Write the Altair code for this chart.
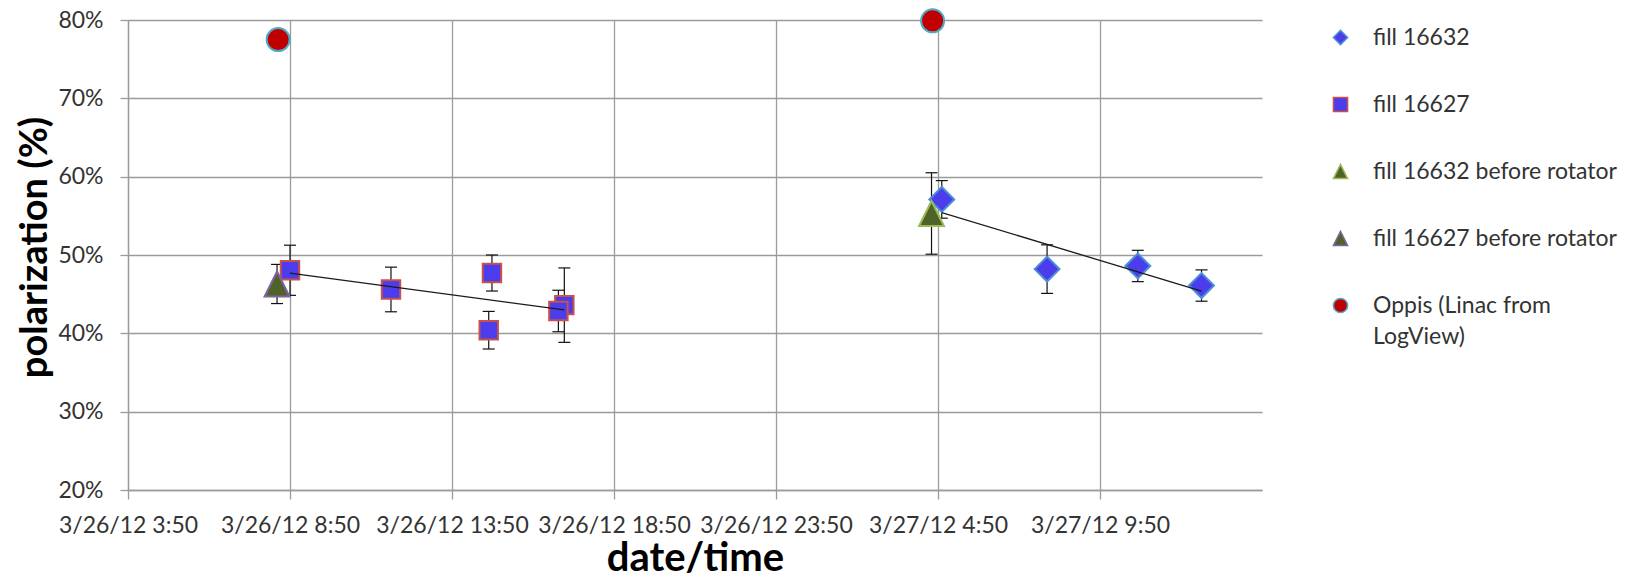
import altair as alt
import pandas as pd

# ---------------- data ----------------
series_names = [
    "fill 16632",
    "fill 16627",
    "fill 16632 before rotator",
    "fill 16627 before rotator",
    "Oppis (Linac from LogView)",
]

fill16632_time = ["2012-03-27 04:57", "2012-03-27 08:12", "2012-03-27 11:00", "2012-03-27 12:58"]
fill16632_pol = [57.1, 48.2, 48.6, 46.1]
fill16632_err = [2.4, 3.1, 2.0, 2.0]

fill16627_time = ["2012-03-26 08:50", "2012-03-26 11:57", "2012-03-26 15:04",
                  "2012-03-26 14:58", "2012-03-26 17:18", "2012-03-26 17:07"]
fill16627_pol = [48.05, 45.6, 47.7, 40.4, 43.6, 42.85]
fill16627_err = [3.2, 2.85, 2.3, 2.4, 4.75, 2.65]

before16632_time = ["2012-03-27 04:38"]
before16632_pol = [55.3]
before16632_err = [5.2]

before16627_time = ["2012-03-26 08:26"]
before16627_pol = [46.3]
before16627_err = [2.5]

oppis_time = ["2012-03-26 08:28", "2012-03-27 04:40"]
oppis_pol = [77.5, 79.9]

x_tick_times = ["2012-03-26 03:50", "2012-03-26 08:50", "2012-03-26 13:50", "2012-03-26 18:50",
                "2012-03-26 23:50", "2012-03-27 04:50", "2012-03-27 09:50"]
x_tick_labels = ["3/26/12 3:50", "3/26/12 8:50", "3/26/12 13:50", "3/26/12 18:50",
                 "3/26/12 23:50", "3/27/12 4:50", "3/27/12 9:50"]
x_domain_times = ["2012-03-26 03:50", "2012-03-27 14:50"]
y_ticks = [20, 30, 40, 50, 60, 70, 80]

# ---------------- table ----------------
origin = pd.Timestamp("2012-03-26 00:00")


def minutes(ts):
    return [int((pd.Timestamp(t) - origin).total_seconds() // 60) for t in ts]


rows = []
for name, ts, pols, errs in [
    (series_names[0], fill16632_time, fill16632_pol, fill16632_err),
    (series_names[1], fill16627_time, fill16627_pol, fill16627_err),
    (series_names[2], before16632_time, before16632_pol, before16632_err),
    (series_names[3], before16627_time, before16627_pol, before16627_err),
    (series_names[4], oppis_time, oppis_pol, [None] * len(oppis_pol)),
]:
    for m, p, e in zip(minutes(ts), pols, errs):
        rows.append({
            "series": name, "minutes": m, "pol": p,
            "lo": p - e if e is not None else None,
            "hi": p + e if e is not None else None,
        })
df = pd.DataFrame(rows)
df_err = df.dropna(subset=["lo"])

tick_minutes = minutes(x_tick_times)
x_domain = minutes(x_domain_times)

label_list = "[" + ",".join("'" + s + "'" for s in x_tick_labels) + "]"
value_list = "[" + ",".join(str(v) for v in tick_minutes) + "]"
x_label_expr = f"{label_list}[indexof({value_list}, datum.value)]"

FONT = "Lato"
GRID = "#9b9b9b"

x_axis = alt.Axis(
    values=tick_minutes, labelExpr=x_label_expr, title="date/time",
    labelFont=FONT, labelFontSize=23, labelColor="#333333", labelAngle=0,
    labelPadding=15, labelFlush=False, labelOverlap=False,
    tickSize=9, tickColor=GRID, tickWidth=1.3,
    grid=True, gridColor=GRID, gridWidth=1.3,
    domainColor=GRID, domainWidth=1.3,
    titleFont=FONT, titleFontSize=40, titleFontWeight="bold", titleColor="#000000",
    titleY=80, titleBaseline="alphabetic",
)
y_axis = alt.Axis(
    values=y_ticks, labelExpr="datum.value + '%'", title="polarization (%)",
    labelFont=FONT, labelFontSize=23, labelColor="#333333", labelPadding=17,
    tickSize=8, tickColor=GRID, tickWidth=1.3,
    grid=True, gridColor=GRID, gridWidth=1.3,
    domainColor=GRID, domainWidth=1.3,
    titleFont=FONT, titleFontSize=38, titleFontWeight="bold", titleColor="#000000",
    titleAngle=270, titleX=-82, titleY=227, titleBaseline="alphabetic", titleAlign="center",
)

x_scale = alt.Scale(domain=x_domain, nice=False, zero=False)
y_scale = alt.Scale(domain=[20, 80], nice=False, zero=False)

legend = alt.Legend(
    title=None, orient="none", legendX=1201, legendY=6,
    labelFont=FONT, labelFontSize=23, labelColor="#333333", labelLimit=500,
    labelOffset=21, rowPadding=43, symbolSize=200, symbolStrokeWidth=1.5,
    labelExpr="replace(datum.label, ' LogView', '\\nLogView')",
)

tri = "M0,-1L1,1L-1,1Z"
shape_scale = alt.Scale(domain=series_names, range=["diamond", "square", tri, tri, "circle"])
fill_scale = alt.Scale(domain=series_names, range=["#4B3DEB", "#4B3DEB", "#4F6228", "#4F6228", "#C00000"])
stroke_scale = alt.Scale(domain=series_names, range=["#4A8FD8", "#C8504D", "#9BBB59", "#8064A2", "#4BACC6"])
marker_sizes = [620, 340, 620, 620, 530]

X = alt.X("minutes:Q", scale=x_scale, axis=x_axis)
base = alt.Chart(df)

err_rule = alt.Chart(df_err).mark_rule(color="#111111", strokeWidth=1.2).encode(
    x=X, y=alt.Y("lo:Q", scale=y_scale, axis=y_axis), y2="hi:Q",
)
cap_lo = alt.Chart(df_err).mark_tick(orient="horizontal", size=12, thickness=1.2, color="#111111", opacity=1).encode(
    x=X, y=alt.Y("lo:Q", scale=y_scale, axis=y_axis),
)
cap_hi = alt.Chart(df_err).mark_tick(orient="horizontal", size=12, thickness=1.2, color="#111111", opacity=1).encode(
    x=X, y=alt.Y("hi:Q", scale=y_scale, axis=y_axis),
)

point_layers = []
for name, sz in zip(series_names, marker_sizes):
    point_layers.append(
        base.transform_filter(alt.FieldEqualPredicate(field="series", equal=name))
        .mark_point(filled=True, opacity=1, strokeWidth=2, size=sz)
        .encode(
            x=X,
            y=alt.Y("pol:Q", scale=y_scale, axis=y_axis),
            shape=alt.Shape("series:N", scale=shape_scale, legend=legend),
            fill=alt.Fill("series:N", scale=fill_scale, legend=legend),
            stroke=alt.Stroke("series:N", scale=stroke_scale, legend=legend),
        )
    )

trend = base.transform_filter(
    alt.FieldOneOfPredicate(field="series", oneOf=series_names[:2])
).transform_regression("minutes", "pol", groupby=["series"]).mark_line(
    color="#1a1a1a", strokeWidth=1.3
).encode(
    x=X, y=alt.Y("pol:Q", scale=y_scale, axis=y_axis), detail="series:N",
)

chart = alt.layer(err_rule, cap_lo, cap_hi, *point_layers, trend).properties(
    width=1134, height=470,
    padding={"left": 120, "top": 12, "right": 365, "bottom": 84},
    autosize=alt.AutoSizeParams(type="none"),
).configure(
    background="white",
    style={"guide-label": {"lineBreak": "\n", "lineHeight": 31}},
).configure_view(strokeWidth=0)

chart.save("out.html", embed_options={"renderer": "svg", "actions": False})
